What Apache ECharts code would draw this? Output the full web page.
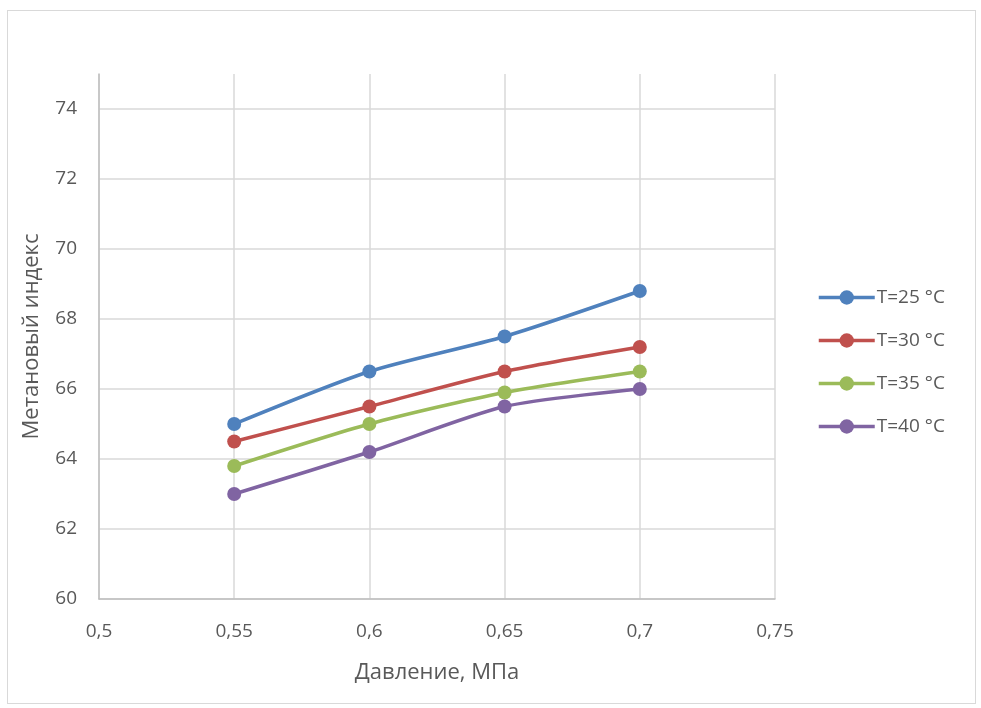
<!DOCTYPE html>
<html>
<head>
<meta charset="utf-8">
<script src="https://cdn.jsdelivr.net/npm/echarts@6/dist/echarts.min.js"></script>
<style>
html,body{margin:0;padding:0;background:#fff;}
#frame{position:absolute;left:7px;top:10px;width:969px;height:694px;border:1px solid #d9d9d9;box-sizing:border-box;}
#chart{position:absolute;left:0;top:0;width:981px;height:708px;}
</style>
</head>
<body>
<div id="frame"></div>
<div id="chart"></div>
<script>
const pressures = [0.55, 0.6, 0.65, 0.7];
const seriesNames = ['T=25 °C', 'T=30 °C', 'T=35 °C', 'T=40 °C'];
const t25 = [65.0, 66.5, 67.5, 68.8];
const t30 = [64.5, 65.5, 66.5, 67.2];
const t35 = [63.8, 65.0, 65.9, 66.5];
const t40 = [63.0, 64.2, 65.5, 66.0];
const xTicks = [0.5, 0.55, 0.6, 0.65, 0.7, 0.75];
const yTicks = [60, 62, 64, 66, 68, 70, 72, 74];

const colors = ['#4f81bd', '#c0504d', '#9bbb59', '#8064a2'];
const values = [t25, t30, t35, t40];
const font = 'Open Sans';
const textColor = '#595959';
const gridColor = '#d9d9d9';

const chart = echarts.init(document.getElementById('chart'), null, {renderer: 'canvas'});
const splitColors = yTicks.map(() => gridColor).concat(['rgba(0,0,0,0)']);

chart.setOption({
  animation: false,
  color: colors,
  grid: {left: 99, top: 74, width: 676, height: 525, containLabel: false},
  legend: {
    orient: 'vertical',
    left: 812,
    top: 283,
    itemWidth: 56,
    itemHeight: 18,
    itemGap: 24,
    lineStyle: {width: 3.5},
    textStyle: {fontFamily: font, fontSize: 19, color: textColor, padding: [0, 0, 0, -3]},
    data: seriesNames
  },
  xAxis: {
    type: 'value',
    min: xTicks[0],
    max: xTicks[xTicks.length - 1],
    interval: 0.05,
    name: 'Давление, МПа',
    nameLocation: 'middle',
    nameGap: 63,
    nameTextStyle: {fontFamily: font, fontSize: 22, color: textColor},
    axisLine: {show: true, lineStyle: {color: '#bfbfbf', width: 1.5}},
    axisTick: {show: false},
    splitLine: {show: true, lineStyle: {color: gridColor, width: 1.5}},
    axisLabel: {
      fontFamily: font, fontSize: 19, color: textColor, margin: 23,
      formatter: v => String(+v.toFixed(2)).replace('.', ',')
    }
  },
  yAxis: {
    type: 'value',
    min: yTicks[0],
    max: 75,
    interval: 2,
    name: 'Метановый индекс',
    nameLocation: 'middle',
    nameGap: 56,
    nameTextStyle: {fontFamily: font, fontSize: 22, color: textColor},
    axisLine: {show: true, lineStyle: {color: '#bfbfbf', width: 1.5}},
    axisTick: {show: false},
    splitLine: {show: true, lineStyle: {color: splitColors, width: 1.5}},
    axisLabel: {
      fontFamily: font, fontSize: 19, color: textColor, margin: 22,
      formatter: v => (yTicks.indexOf(Math.round(v)) >= 0 && Math.abs(v - Math.round(v)) < 1e-6) ? String(Math.round(v)) : ''
    }
  },
  series: seriesNames.map((name, i) => ({
    name: name,
    type: 'line',
    smooth: 0.25,
    symbol: 'circle',
    symbolSize: 14,
    lineStyle: {width: 3.5, color: colors[i]},
    itemStyle: {color: colors[i]},
    data: pressures.map((p, j) => [p, values[i][j]])
  }))
});
</script>
</body>
</html>
